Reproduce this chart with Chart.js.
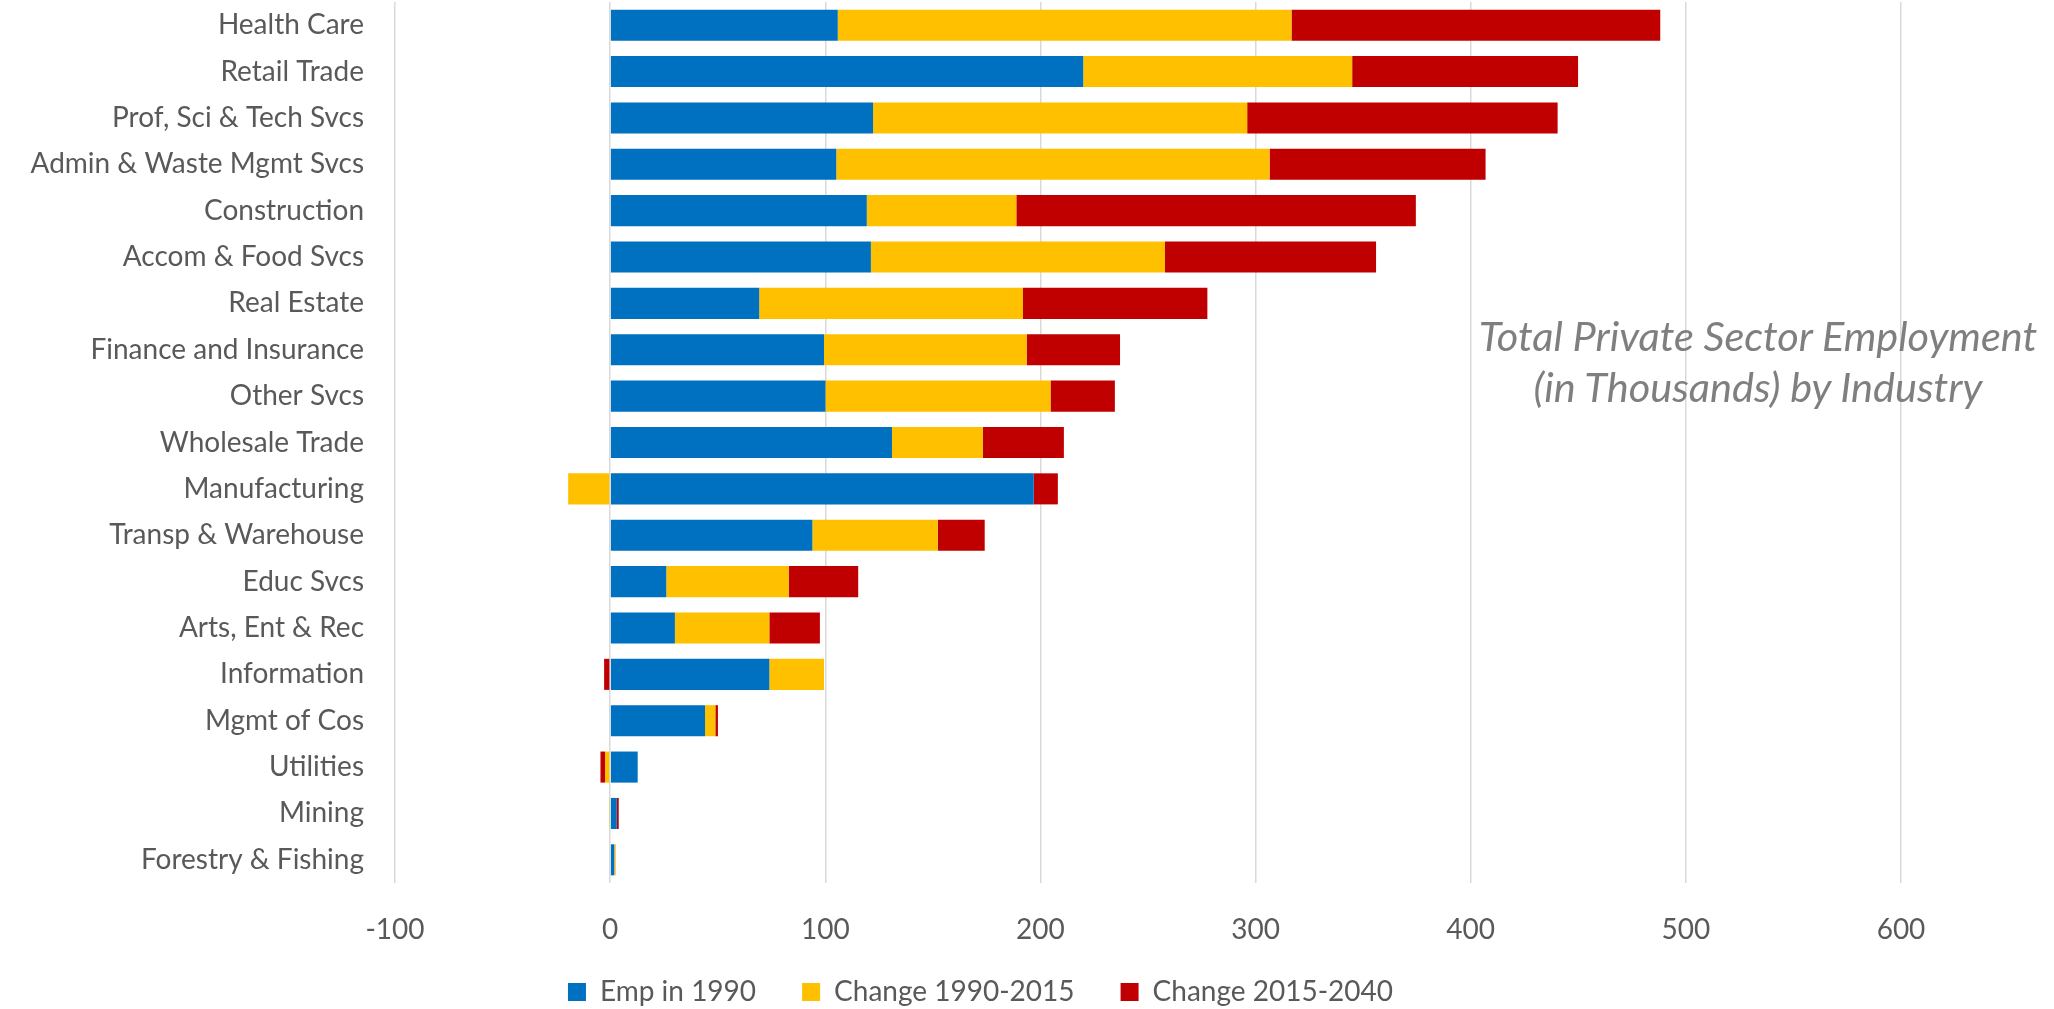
<!DOCTYPE html>
<html><head><meta charset="utf-8">
<script src="https://cdn.jsdelivr.net/npm/chart.js@4.4.0/dist/chart.umd.min.js"></script>
<style>
html,body{margin:0;padding:0;background:#fff;}
#wrap{position:relative;width:2054px;height:1009px;}
#c{display:block;width:2054px;height:1009px;}
#title{position:absolute;left:1458px;top:310px;width:600px;text-align:center;font-family:Lato,sans-serif;font-style:italic;font-size:41.5px;line-height:51px;color:#7f7f7f;white-space:nowrap;}
</style></head><body>
<div id="wrap"><canvas id="c" width="2054" height="1009"></canvas>
<div id="title">Total Private Sector Employment<br>(in Thousands) by Industry</div></div>
<script>
const industries = ["Health Care","Retail Trade","Prof, Sci & Tech Svcs","Admin & Waste Mgmt Svcs","Construction","Accom & Food Svcs","Real Estate","Finance and Insurance","Other Svcs","Wholesale Trade","Manufacturing","Transp & Warehouse","Educ Svcs","Arts, Ent & Rec","Information","Mgmt of Cos","Utilities","Mining","Forestry & Fishing"];
const emp1990 = [105.8,219.9,122.2,105.1,119.3,121.2,69.3,99.4,100.1,131.0,196.9,94.0,26.1,30.1,74.0,44.1,12.8,3.1,1.9];
const change1990_2015 = [210.9,125.0,173.9,201.4,69.5,136.7,122.6,94.2,104.6,42.2,-19.5,58.3,56.9,43.9,25.4,4.8,-2.4,-0.5,0.5];
const change2015_2040 = [171.4,105.0,144.3,100.4,185.7,98.1,85.7,43.4,29.9,37.7,11.2,21.8,32.3,23.5,-2.8,1.2,-2.1,0.9,0.1];
const seriesNames = ["Emp in 1990","Change 1990-2015","Change 2015-2040"];
const xMin = -100, xMax = 600, xStep = 100;

const txt = '#595959';
const font = {family:'Lato, sans-serif', size:28};

const legendShift = {
  id:'legendShift',
  afterLayout(chart){
    const l = chart.legend;
    if(!l) return;
    l.left += 30; l.right += 30;
    l.top -= 15; l.bottom -= 15;
  }
};

new Chart(document.getElementById('c'), {
  type:'bar',
  data:{
    labels: industries,
    datasets:[
      {label:seriesNames[0], data:emp1990, backgroundColor:'#0070C0'},
      {label:seriesNames[1], data:change1990_2015, backgroundColor:'#FFC000'},
      {label:seriesNames[2], data:change2015_2040, backgroundColor:'#C00000'}
    ]
  },
  plugins:[legendShift],
  options:{
    indexAxis:'y',
    responsive:false,
    animation:false,
    devicePixelRatio:1,
    datasets:{bar:{barPercentage:0.67, categoryPercentage:1.0, borderWidth:0}},
    layout:{padding:{left:0,right:153,top:2,bottom:-22}},
    plugins:{
      legend:{position:'bottom', labels:{font:font, color:txt, boxWidth:18, boxHeight:18, padding:46}},
      tooltip:{enabled:false}
    },
    scales:{
      x:{stacked:true, min:xMin, max:xMax,
         ticks:{stepSize:xStep, font:font, color:txt, padding:30},
         grid:{color:'#d9d9d9', lineWidth:1.5, drawTicks:false},
         border:{display:false},
         afterFit:(s)=>{s.height=64;}
      },
      y:{stacked:true,
         ticks:{font:font, color:txt, padding:31, autoSkip:false},
         grid:{display:false, drawTicks:false},
         border:{display:false},
         afterFit:(s)=>{s.width=395; s.paddingTop=0; s.paddingBottom=0;}
      }
    }
  }
});
</script>
</body></html>
